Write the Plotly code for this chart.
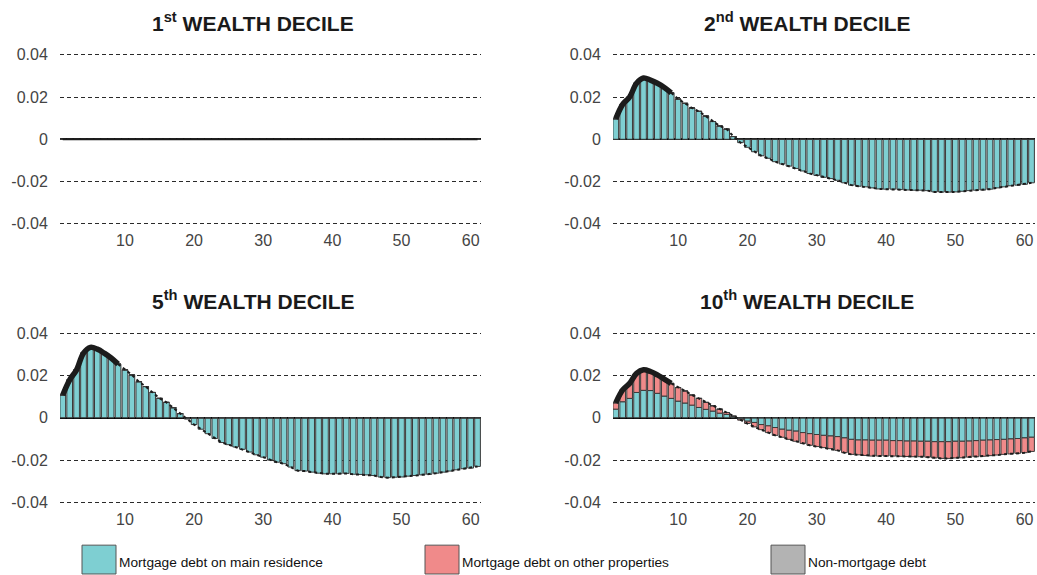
import plotly.graph_objects as go
from plotly.subplots import make_subplots

W, H = 1037, 575

periods = list(range(1, 62))
x_ticks = [10, 20, 30, 40, 50, 60]
y_ticks = [-0.04, -0.02, 0, 0.02, 0.04]
y_tick_labels = ["-0.04", "-0.02", "0", "0.02", "0.04"]

series_names = ["Mortgage debt on main residence", "Mortgage debt on other properties", "Non-mortgage debt"]
series_colors = ["#7ecfd2", "#f08a8a", "#b3b3b3"]

panel_titles = [
    "<b>1<sup>st</sup> WEALTH DECILE</b>",
    "<b>2<sup>nd</sup> WEALTH DECILE</b>",
    "<b>5<sup>th</sup> WEALTH DECILE</b>",
    "<b>10<sup>th</sup> WEALTH DECILE</b>",
]

zeros = [0.0] * 61

# 1st decile
d1_main = zeros
d1_other = zeros
d1_nonmort = zeros

# 2nd decile
d2_main = [0.0097, 0.0165, 0.020, 0.0265, 0.029, 0.028, 0.0265, 0.0245, 0.022, 0.019,
           0.017, 0.0148, 0.0132, 0.011, 0.0084, 0.0063, 0.0048, 0.0013, -0.0016, -0.0038,
           -0.0059, -0.0078, -0.009, -0.0106, -0.0117, -0.0127, -0.0138, -0.015, -0.0162, -0.0171,
           -0.018, -0.0186, -0.0194, -0.0206, -0.0217, -0.0222, -0.0225, -0.023, -0.0235, -0.0236,
           -0.0236, -0.0238, -0.024, -0.0241, -0.0241, -0.0243, -0.0249, -0.025, -0.025, -0.0249,
           -0.0246, -0.0243, -0.0241, -0.024, -0.0236, -0.023, -0.0225, -0.022, -0.0217, -0.0213,
           -0.0206]
d2_other = zeros
d2_nonmort = zeros

# 5th decile
d5_main = [0.0108, 0.018, 0.0227, 0.0306, 0.0333, 0.0325, 0.0306, 0.0283, 0.0254, 0.0227,
           0.0203, 0.0171, 0.0148, 0.012, 0.0092, 0.0073, 0.0048, 0.002, -0.0006, -0.0032,
           -0.0054, -0.0075, -0.0098, -0.0117, -0.0127, -0.0138, -0.0149, -0.0162, -0.0175, -0.0186,
           -0.020, -0.021, -0.0217, -0.0233, -0.025, -0.0252, -0.0257, -0.0262, -0.0265, -0.0265,
           -0.0265, -0.0263, -0.0267, -0.0268, -0.027, -0.0273, -0.028, -0.0283, -0.0281, -0.028,
           -0.0276, -0.0273, -0.027, -0.0267, -0.0262, -0.0257, -0.0252, -0.0246, -0.0241, -0.0238,
           -0.023]
d5_other = zeros
d5_nonmort = zeros

# 10th decile
d10_main = [0.0041, 0.0076, 0.0092, 0.012, 0.013, 0.0129, 0.0116, 0.0103, 0.0092, 0.0079,
            0.007, 0.006, 0.0049, 0.004, 0.0032, 0.0022, 0.0016, 0.0005, -0.0006, -0.0016,
            -0.0022, -0.0032, -0.0038, -0.0046, -0.0054, -0.0059, -0.0063, -0.007, -0.0075, -0.0079,
            -0.0083, -0.0086, -0.0089, -0.0095, -0.0102, -0.0105, -0.0105, -0.0106, -0.0106, -0.0106,
            -0.0108, -0.0108, -0.011, -0.011, -0.0111, -0.0111, -0.0113, -0.0113, -0.0113, -0.0111,
            -0.0111, -0.011, -0.0108, -0.0106, -0.0105, -0.0103, -0.0102, -0.0100, -0.0098, -0.0095,
            -0.0092]
d10_other = [0.003, 0.0056, 0.0071, 0.009, 0.0097, 0.009, 0.0087, 0.008, 0.0071, 0.0064,
             0.0057, 0.0048, 0.0043, 0.0033, 0.0025, 0.0019, 0.0009, 0.0003, -0.0005, -0.0011,
             -0.0021, -0.0024, -0.0032, -0.0037, -0.0038, -0.0043, -0.0048, -0.0051, -0.0055, -0.0057,
             -0.0058, -0.006, -0.0065, -0.007, -0.0071, -0.007, -0.0073, -0.0075, -0.0075, -0.0075,
             -0.0073, -0.0074, -0.0073, -0.0074, -0.0073, -0.0075, -0.0077, -0.0079, -0.0079, -0.0079,
             -0.0078, -0.0076, -0.0076, -0.0076, -0.0074, -0.0073, -0.0071, -0.0071, -0.0070, -0.0070,
             -0.0067]
d10_nonmort = zeros

panels = [
    (d1_main, d1_other, d1_nonmort),
    (d2_main, d2_other, d2_nonmort),
    (d5_main, d5_other, d5_nonmort),
    (d10_main, d10_other, d10_nonmort),
]

THICK_END = 9  # total line drawn thick up to this period

fig = make_subplots(rows=2, cols=2)

positions = [(1, 1), (1, 2), (2, 1), (2, 2)]
for idx, ((r, c), comps) in enumerate(zip(positions, panels)):
    for name, color, vals in zip(series_names, series_colors, comps):
        fig.add_trace(go.Bar(
            x=periods, y=vals, name=name, marker_color=color,
            marker_line_color="#3a3a3a", marker_line_width=1,
            showlegend=False,
        ), row=r, col=c)
    total = [a + b + d for a, b, d in zip(*comps)]
    nonzero = any(abs(v) > 0 for v in total)
    if nonzero:
        xs1 = [p for p in periods if p <= THICK_END]
        ys1 = total[:len(xs1)]
        fig.add_trace(go.Scatter(
            x=xs1, y=ys1, mode="lines", line=dict(color="#1c1c1c", width=5.5, shape="spline"),
            showlegend=False, hoverinfo="skip"), row=r, col=c)
        xs2 = [p for p in periods if p >= THICK_END]
        ys2 = total[THICK_END - 1:]
        fig.add_trace(go.Scatter(
            x=xs2, y=ys2, mode="lines", line=dict(color="#1c1c1c", width=2, dash="dot"),
            showlegend=False, hoverinfo="skip"), row=r, col=c)
    else:
        fig.add_trace(go.Scatter(
            x=periods, y=total, mode="lines", line=dict(color="#1c1c1c", width=2),
            showlegend=False, hoverinfo="skip"), row=r, col=c)


def px_x(p):
    return p / W


def px_y(p):
    return 1 - p / H


x_domains = [(60, 481), (613, 1035)]
y_domains = [(44.4, 230.3), (324.4, 510.3)]

tick_font = dict(family="Liberation Sans, Arial, sans-serif", size=16, color="#444444")

for i, (r, c) in enumerate(positions):
    xd = x_domains[c - 1]
    yd = y_domains[r - 1]
    fig.update_xaxes(
        domain=[px_x(xd[0]), px_x(xd[1])], range=[0.6, 61.5],
        tickvals=x_ticks, showgrid=False, zeroline=False, showline=False,
        ticks="", tickfont=tick_font, row=r, col=c)
    fig.update_yaxes(
        domain=[px_y(yd[1]), px_y(yd[0])], range=[-0.0425, 0.045],
        tickvals=y_ticks, ticktext=y_tick_labels, showgrid=True,
        gridcolor="#2a2a2a", gridwidth=1, griddash="4px,3px",
        zeroline=True, zerolinecolor="#000000", zerolinewidth=1.5,
        showline=False, ticks="outside", ticklen=8, tickcolor="rgba(0,0,0,0)",
        tickfont=tick_font, row=r, col=c)

# panel titles
title_centers = [(253, 22), (807, 22), (253, 302), (807, 302)]
annotations = []
for t, (cx, cy) in zip(panel_titles, title_centers):
    annotations.append(dict(
        text=t, x=px_x(cx), y=px_y(cy), xref="paper", yref="paper",
        xanchor="center", yanchor="middle", showarrow=False,
        font=dict(family="Liberation Sans, Arial, sans-serif", size=21, color="#1a1a1a")))

# legend (boxes + labels)
legend_x = [82, 425, 771]
shapes = []
for lx, name, color in zip(legend_x, series_names, series_colors):
    shapes.append(dict(type="rect", xref="paper", yref="paper",
                       x0=px_x(lx), x1=px_x(lx + 34), y0=px_y(577), y1=px_y(548),
                       fillcolor=color, line=dict(color="#555555", width=1)))
    annotations.append(dict(
        text=name, x=px_x(lx + 35), y=px_y(565), xref="paper", yref="paper",
        xanchor="left", yanchor="middle", showarrow=False,
        font=dict(family="Liberation Sans, Arial, sans-serif", size=13.7, color="#111111")))

fig.update_layout(
    width=W, height=H, autosize=False,
    margin=dict(l=0, r=0, t=0, b=0),
    paper_bgcolor="white", plot_bgcolor="white",
    barmode="relative", bargap=0.18,
    showlegend=False,
    annotations=annotations, shapes=shapes,
)

fig.write_html(
    "out.html",
    config={"displayModeBar": False},
    post_script=(
        "document.documentElement.style.margin='0';"
        "document.documentElement.style.overflow='hidden';"
        "document.body.style.margin='0';"
        "document.body.style.overflow='hidden';"
    ),
)
